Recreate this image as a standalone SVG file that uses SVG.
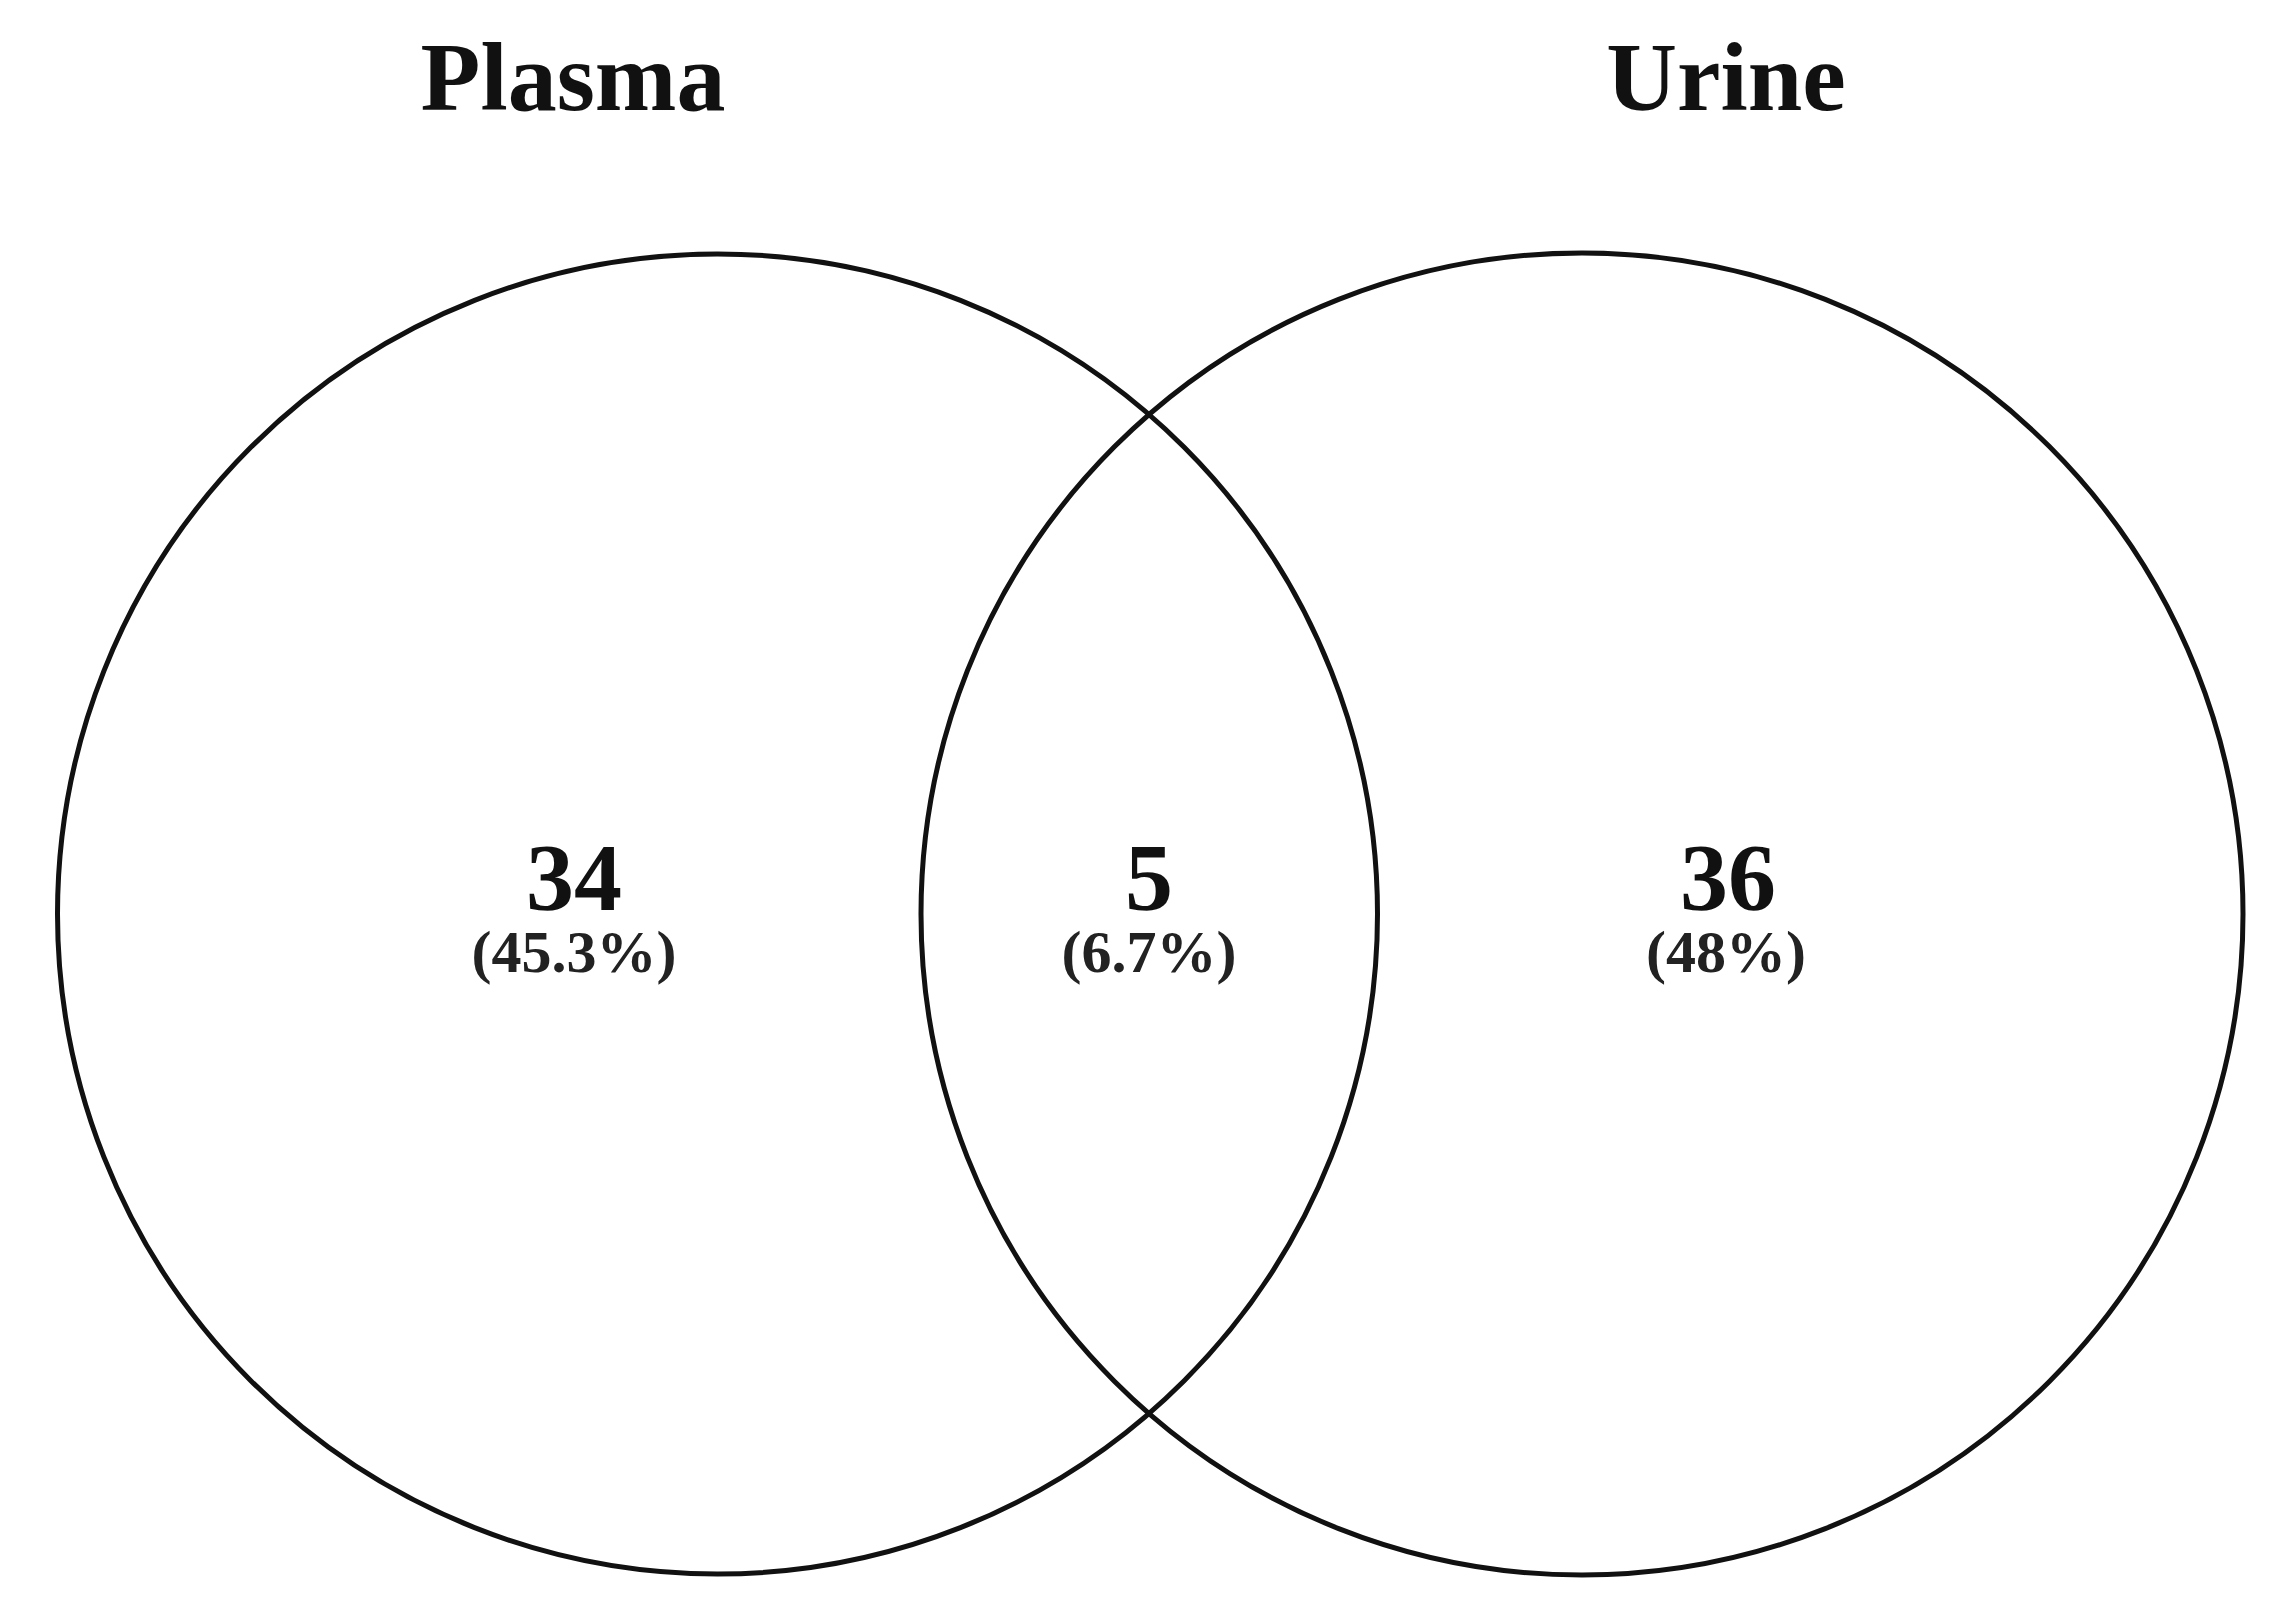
<svg xmlns="http://www.w3.org/2000/svg" width="2289" height="1622" viewBox="0 0 2289 1622">
<style>
.set{fill:none;stroke:#111;stroke-width:5}
.title{font-family:"Liberation Serif",serif;font-weight:bold;font-size:98px;fill:#111;text-anchor:middle}
.num{font-family:"Liberation Serif",serif;font-weight:bold;font-size:96px;fill:#111;text-anchor:middle}
.pct{font-family:"Liberation Serif",serif;font-weight:bold;font-size:60px;fill:#222;text-anchor:middle}
</style>
<rect width="2289" height="1622" fill="#fff"/>
<g id="plasma">
<circle class="set" cx="717.5" cy="914" r="660"/>
<text class="title" x="573" y="110">Plasma</text>
<text class="num" x="574" y="910">34</text>
<text class="pct" x="574" y="972">(45.3%)</text>
</g>
<g id="urine">
<circle class="set" cx="1582" cy="914" r="661"/>
<text class="title" x="1726" y="110">Urine</text>
<text class="num" x="1728" y="910">36</text>
<text class="pct" x="1726" y="972">(48%)</text>
</g>
<g id="overlap">
<text class="num" x="1149" y="910">5</text>
<text class="pct" x="1149" y="972">(6.7%)</text>
</g>
<g id="connectors"></g>
</svg>
